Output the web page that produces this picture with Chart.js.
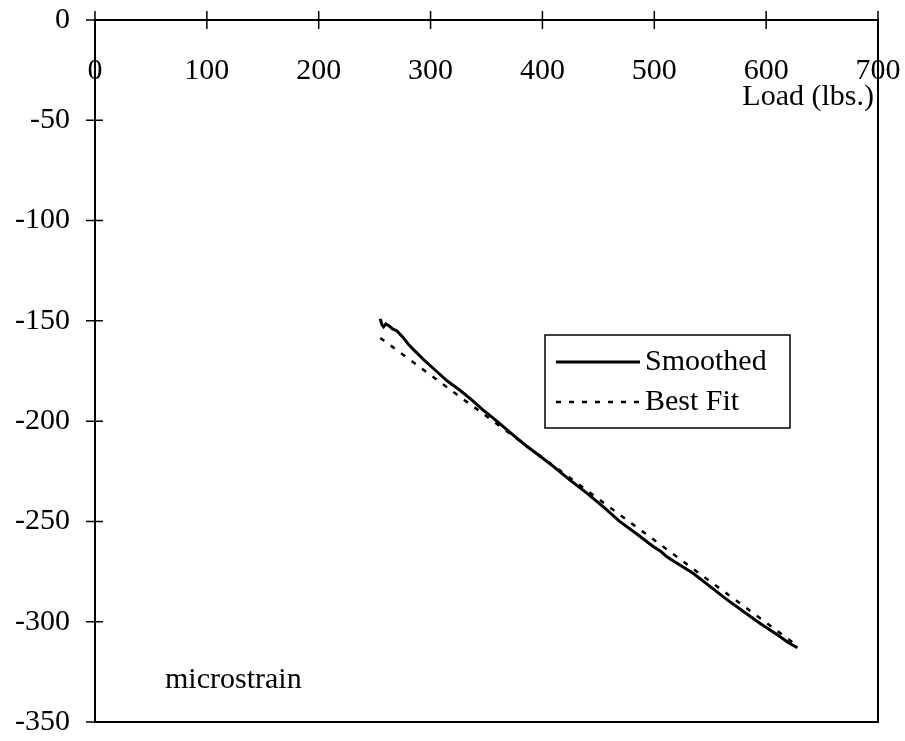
<!DOCTYPE html>
<html>
<head>
<meta charset="utf-8">
<script src="https://cdn.jsdelivr.net/npm/chart.js@4.4.1/dist/chart.umd.min.js"></script>
<style>
  body { margin: 0; background: #fff; }
  #wrap { width: 905px; height: 741px; }
</style>
</head>
<body>
<div id="wrap"><canvas id="myLineChart" width="905" height="741"></canvas></div>
<script>
// load (lbs.) and microstrain
let smoothLoad = [255, 256.5, 258, 260, 263, 266, 270, 275, 280, 285, 295, 305, 315, 326, 337, 347, 356, 365, 375, 386, 398, 410, 425, 440, 455, 469, 485, 499, 506, 511, 515, 525, 535, 550, 565, 580, 595, 610, 620, 628];
let smoothStrain = [-149, -152, -153, -151.5, -152.5, -154, -155, -158, -161.5, -164.5, -170, -175, -180, -184.5, -189.5, -194.5, -198.5, -202.7, -207.5, -212.5, -217.5, -222.7, -229.5, -236, -243, -250, -256.5, -262.5, -265, -267.5, -269, -272.5, -276, -282.5, -289, -295, -301, -306.5, -310.5, -313];

let fitLoad = [255, 628];
let fitStrain = [-158.5, -312];

let xTicks = [0, 100, 200, 300, 400, 500, 600, 700];
let yTicks = [0, -50, -100, -150, -200, -250, -300, -350];

let seriesNames = ["Smoothed", "Best Fit"];

let serif = "'Liberation Serif', 'Times New Roman', serif";
Chart.defaults.font.family = serif;
Chart.defaults.color = "#000";

function toPoints(xs, ys) {
    let pts = [];
    for (let i = 0; i < xs.length; i++) {
        pts.push({x: xs[i], y: ys[i]});
    }
    return pts;
}

// box around the plot, crossing tick marks, loose texts and the legend
let framePlugin = {
    id: "frame",
    afterDraw(chart) {
        let ctx = chart.ctx;
        let a = chart.chartArea;
        let xs = chart.scales.x;
        let ys = chart.scales.y;
        ctx.save();
        ctx.strokeStyle = "#000";
        ctx.lineWidth = 2;
        ctx.beginPath();
        ctx.moveTo(a.left, a.top);
        ctx.lineTo(a.left, a.bottom);
        ctx.lineTo(a.right, a.bottom);
        ctx.lineTo(a.right, a.top);
        ctx.stroke();

        ctx.lineWidth = 1.5;
        ctx.beginPath();
        for (let v of xTicks) {
            let px = xs.getPixelForValue(v);
            ctx.moveTo(px, a.top - 9);
            ctx.lineTo(px, a.top + 9);
        }
        for (let v of yTicks) {
            let py = ys.getPixelForValue(v);
            ctx.moveTo(a.left - 9, py);
            ctx.lineTo(a.left + 8, py);
        }
        ctx.stroke();

        ctx.fillStyle = "#000";
        ctx.font = "30px " + serif;
        ctx.textBaseline = "middle";
        ctx.textAlign = "right";
        ctx.fillText("Load (lbs.)", a.right - 4, a.top + 77);
        ctx.textAlign = "left";
        ctx.fillText("microstrain", a.left + 70, a.bottom - 42);

        // legend
        ctx.lineWidth = 1.5;
        ctx.strokeRect(545, 335, 245, 93);
        ctx.lineWidth = 3;
        ctx.beginPath();
        ctx.moveTo(556, 362);
        ctx.lineTo(640, 362);
        ctx.stroke();
        ctx.lineWidth = 2.5;
        ctx.setLineDash([5, 8]);
        ctx.beginPath();
        ctx.moveTo(556, 402);
        ctx.lineTo(642, 402);
        ctx.stroke();
        ctx.setLineDash([]);
        ctx.fillText(seriesNames[0], 645, 362);
        ctx.fillText(seriesNames[1], 645, 402);
        ctx.restore();
    }
};

let myLineChart = new Chart(document.getElementById("myLineChart"), {
    type: "line",
    data: {
        datasets: [{
            label: seriesNames[0],
            data: toPoints(smoothLoad, smoothStrain),
            borderColor: "#000",
            borderWidth: 3,
            pointRadius: 0,
            tension: 0,
            fill: false
        }, {
            label: seriesNames[1],
            data: toPoints(fitLoad, fitStrain),
            borderColor: "#000",
            borderWidth: 2.5,
            borderDash: [5, 8],
            pointRadius: 0,
            fill: false
        }]
    },
    options: {
        responsive: false,
        animation: false,
        layout: {padding: {left: 0, right: 27, top: 20, bottom: 19}},
        plugins: {
            legend: {display: false},
            tooltip: {enabled: false}
        },
        scales: {
            x: {
                type: "linear",
                position: {y: 0},
                min: 0,
                max: 700,
                afterBuildTicks: s => { s.ticks = xTicks.map(v => ({value: v})); },
                afterFit: s => { s.paddingLeft = 0; s.paddingRight = 0; },
                ticks: {
                    autoSkip: false,
                    maxRotation: 0,
                    font: {size: 30},
                    color: "#000"
                },
                grid: {drawOnChartArea: false, drawTicks: true, tickLength: 30, tickColor: "rgba(0,0,0,0)"},
                border: {display: true, color: "#000", width: 2}
            },
            y: {
                type: "linear",
                position: "left",
                min: -350,
                max: 0,
                afterBuildTicks: s => { s.ticks = yTicks.map(v => ({value: v})); },
                afterFit: s => { s.width = 95; s.paddingTop = 0; s.paddingBottom = 0; },
                ticks: {
                    autoSkip: false,
                    padding: 15,
                    font: {size: 30},
                    color: "#000"
                },
                grid: {drawOnChartArea: false, drawTicks: true, tickLength: 10, tickColor: "rgba(0,0,0,0)"},
                border: {display: true, color: "#000", width: 2}
            }
        }
    },
    plugins: [framePlugin]
});
</script>
</body>
</html>
